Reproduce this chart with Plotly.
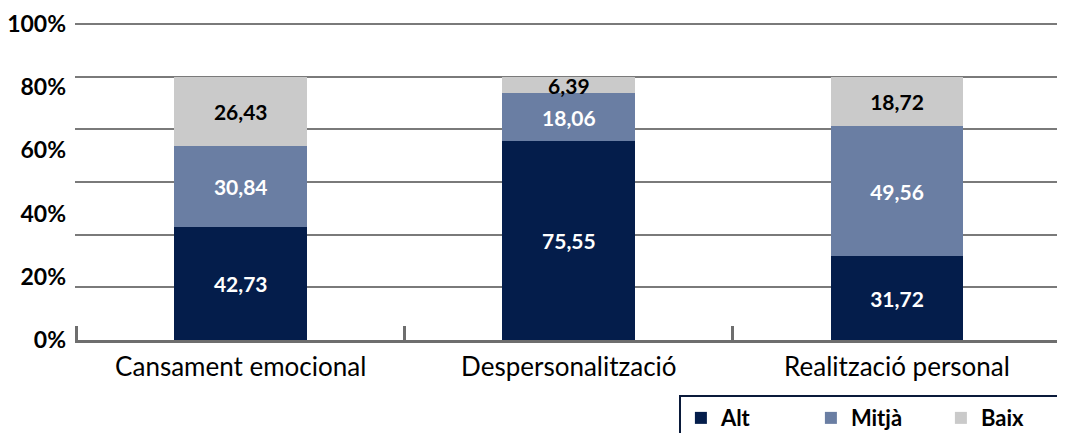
import plotly.graph_objects as go

categories = ["Cansament emocional", "Despersonalització", "Realització personal"]
alt = [42.73, 75.55, 31.72]
mitja = [30.84, 18.06, 49.56]
baix = [26.43, 6.39, 18.72]
series_names = ["Alt", "Mitjà", "Baix"]
colors = ["#041d4b", "#6a7ea3", "#cacaca"]
text_colors = ["white", "white", "black"]
ytick_vals = [0, 24, 48, 72, 96, 120]
ytick_text = ["0%", "20%", "40%", "60%", "80%", "100%"]
grid_vals = [0, 20, 40, 60, 80, 100, 120]

FONT = "Lato"

fig = go.Figure()
for name, vals, col, tcol in zip(series_names, [alt, mitja, baix], colors, text_colors):
    fig.add_trace(go.Bar(
        x=categories, y=vals, name="<b>%s</b>" % name,
        marker=dict(color=col, line=dict(width=0)),
        texttemplate="<b>%{y:.2f}</b>", textposition="inside",
        insidetextanchor="middle",
        textfont=dict(color=tcol, size=21, family=FONT),
        width=0.405,
    ))

# carrier for the percentage label axis
fig.add_trace(go.Scatter(
    x=categories, y=[None] * len(categories), yaxis="y2",
    showlegend=False, hoverinfo="skip", mode="markers",
))

fig.update_layout(
    barmode="stack",
    separators=",.",
    width=1065, height=433,
    margin=dict(l=67, r=8, t=8, b=101, autoexpand=False),
    plot_bgcolor="white", paper_bgcolor="white",
    font=dict(family=FONT, color="black"),
    uniformtext=dict(minsize=21, mode="show"),
    showlegend=True,
    legend=dict(
        orientation="h", x=0.61, xanchor="left", y=-0.17, yanchor="top",
        bordercolor="#0a1a3a", borderwidth=2, bgcolor="white",
        font=dict(size=22, family=FONT),
        entrywidth=85, entrywidthmode="pixels",
        traceorder="normal",
        itemclick=False,
    ),
    xaxis=dict(
        range=[-0.505, 2.512],
        showline=True, linecolor="#6e6e6e", linewidth=3,
        ticks="inside", tickson="boundaries", ticklen=14, tickwidth=3, tickcolor="#6e6e6e",
        tickfont=dict(size=26, family=FONT),
        ticklabelstandoff=2,
        showgrid=False,
    ),
    yaxis=dict(
        range=[0, 123], tickmode="array", tickvals=grid_vals,
        showticklabels=False, showgrid=True, gridcolor="#7a7a7a", gridwidth=2,
        zeroline=False, showline=False, ticks="",
    ),
    yaxis2=dict(
        range=[0, 123], overlaying="y", side="left", anchor="x",
        tickmode="array", tickvals=ytick_vals, ticktext=["<b>%s</b>" % t for t in ytick_text],
        tickfont=dict(size=23, family=FONT),
        showgrid=False, zeroline=False, showline=False, ticks="",
        ticklabelstandoff=8,
    ),
)

fig.write_html("out.html")
